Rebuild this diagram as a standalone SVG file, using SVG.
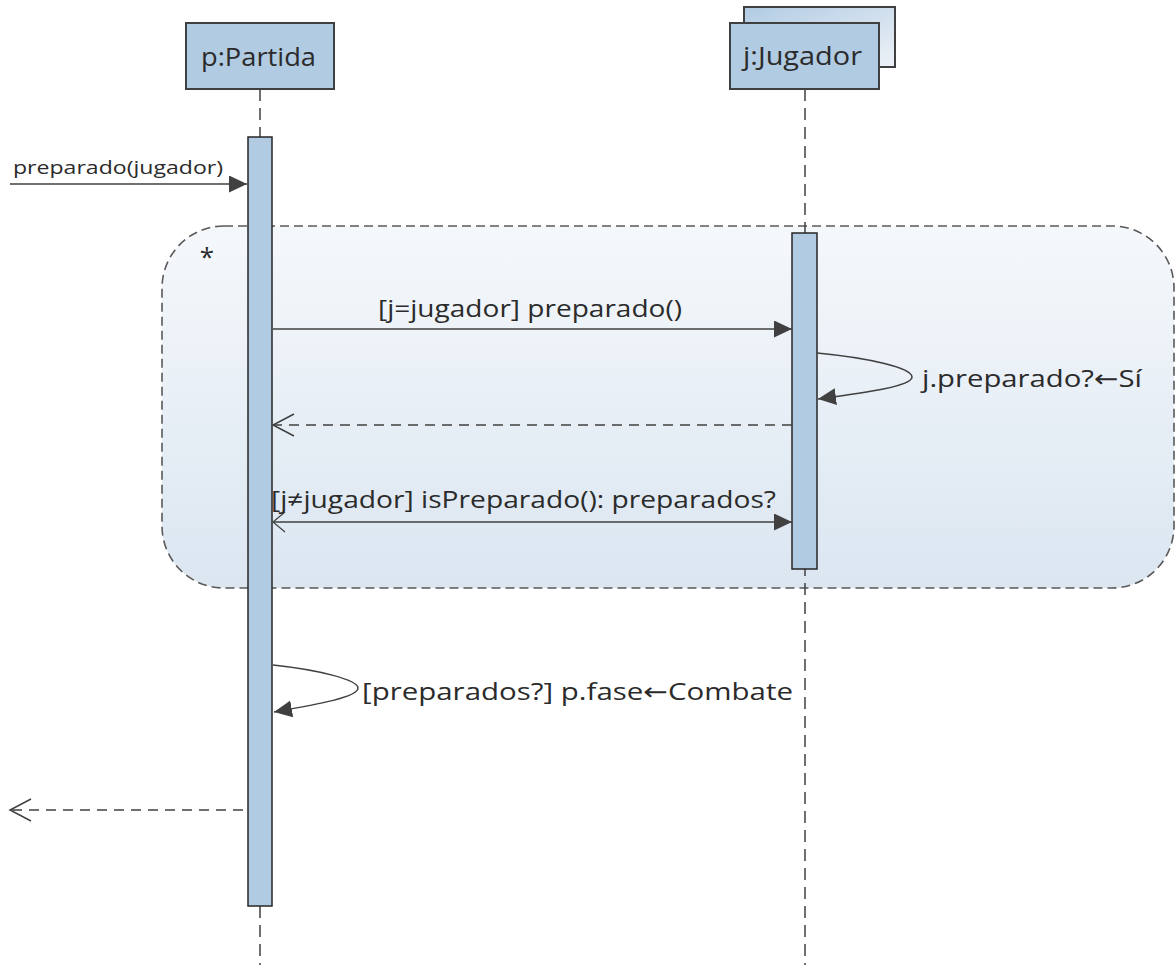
<svg xmlns="http://www.w3.org/2000/svg" width="1175" height="965" viewBox="0 0 1175 965">
<style>
.box{fill:#b1cbe3;stroke:#404040;stroke-width:2}
.act{fill:#b1cbe3;stroke:#262626;stroke-width:1.5}
.life{stroke:#404040;stroke-width:1.5;stroke-dasharray:12 7;fill:none}
.msg{stroke:#404040;stroke-width:1.5;fill:none}
.ret{stroke:#404040;stroke-width:1.5;fill:none;stroke-dasharray:10 7}
.t{font-family:"Open Sans","Liberation Sans",sans-serif;fill:#2b2b2b}
.arr{font-family:"DejaVu Sans",sans-serif}
</style>
<defs>
<linearGradient id="loopg" x1="0" y1="0" x2="0" y2="1">
<stop offset="0" stop-color="#f5f8fb"/>
<stop offset="1" stop-color="#dbe6f1"/>
</linearGradient>
<linearGradient id="backg" x1="0" y1="0" x2="1" y2="1">
<stop offset="0" stop-color="#b1cbe3"/>
<stop offset="1" stop-color="#eef2f7"/>
</linearGradient>
<marker id="fill" viewBox="0 0 18 17" refX="18" refY="8.5" markerWidth="18" markerHeight="17" markerUnits="userSpaceOnUse" orient="auto">
<path d="M0,0 L18,8.5 L0,17 z" fill="#404040"/>
</marker>
<marker id="open" viewBox="0 0 24 24" refX="22" refY="12" markerWidth="24" markerHeight="24" markerUnits="userSpaceOnUse" orient="auto">
<path d="M1,1 L22,12 L1,23" fill="none" stroke="#404040" stroke-width="1.5"/>
</marker>
<marker id="opens" viewBox="0 0 14 22" refX="13" refY="11" markerWidth="14" markerHeight="22" markerUnits="userSpaceOnUse" orient="auto-start-reverse">
<path d="M1,1 L13,11 L1,21" fill="none" stroke="#404040" stroke-width="1.2"/>
</marker>
</defs>

<g id="loop">
<rect x="162" y="226" width="1012" height="362" rx="62" ry="62" fill="url(#loopg)" stroke="#595959" stroke-width="1.6" stroke-dasharray="9 5"/>
<text class="t" x="207" y="266" font-size="26" text-anchor="middle">*</text>
</g>

<g id="partida">
<rect class="box" x="186" y="23" width="148" height="66"/>
<text class="t" x="201" y="66" font-size="26" textLength="115" lengthAdjust="spacingAndGlyphs">p:Partida</text>
<line class="life" x1="260" y1="89" x2="260" y2="965"/>
<rect class="act" x="248" y="137" width="24" height="769"/>
</g>

<g id="jugador">
<rect x="744" y="7" width="151" height="60" fill="url(#backg)" stroke="#404040" stroke-width="2"/>
<rect class="box" x="730" y="23" width="149" height="66"/>
<text class="t" x="743" y="65" font-size="26" textLength="119" lengthAdjust="spacingAndGlyphs">j:Jugador</text>
<line class="life" x1="805" y1="89" x2="805" y2="965"/>
<rect class="act" x="792" y="233" width="25" height="336"/>
</g>

<g id="connectors">
<line class="msg" x1="10" y1="184" x2="247" y2="184" marker-end="url(#fill)"/>
<text class="t" x="13" y="174" font-size="18" textLength="210" lengthAdjust="spacingAndGlyphs">preparado(jugador)</text>

<line class="msg" x1="273" y1="329" x2="792" y2="329" marker-end="url(#fill)"/>
<text class="t" x="378" y="317" font-size="24" textLength="304" lengthAdjust="spacingAndGlyphs">[j=jugador] preparado()</text>

<path class="msg" d="M817,353 C870,358 912,368 912,377 C912,386 870,392 818,399" marker-end="url(#fill)"/>
<text class="t" x="922" y="387" font-size="24" textLength="220" lengthAdjust="spacingAndGlyphs">j.preparado?<tspan class="arr">←</tspan>Sí</text>

<line class="ret" x1="792" y1="425" x2="273" y2="425" marker-end="url(#open)"/>

<line class="msg" x1="273" y1="522" x2="792" y2="522" marker-start="url(#opens)" marker-end="url(#fill)"/>
<text class="t" x="271" y="508" font-size="24" textLength="505" lengthAdjust="spacingAndGlyphs">[j≠jugador] isPreparado(): preparados?</text>

<path class="msg" d="M273,665 C320,670 358,680 358,688 C358,697 320,704 274,712" marker-end="url(#fill)"/>
<text class="t" x="362" y="700" font-size="24" textLength="431" lengthAdjust="spacingAndGlyphs">[preparados?] p.fase<tspan class="arr">←</tspan>Combate</text>

<line class="ret" x1="243" y1="810" x2="10" y2="810" marker-end="url(#open)"/>
</g>
</svg>
